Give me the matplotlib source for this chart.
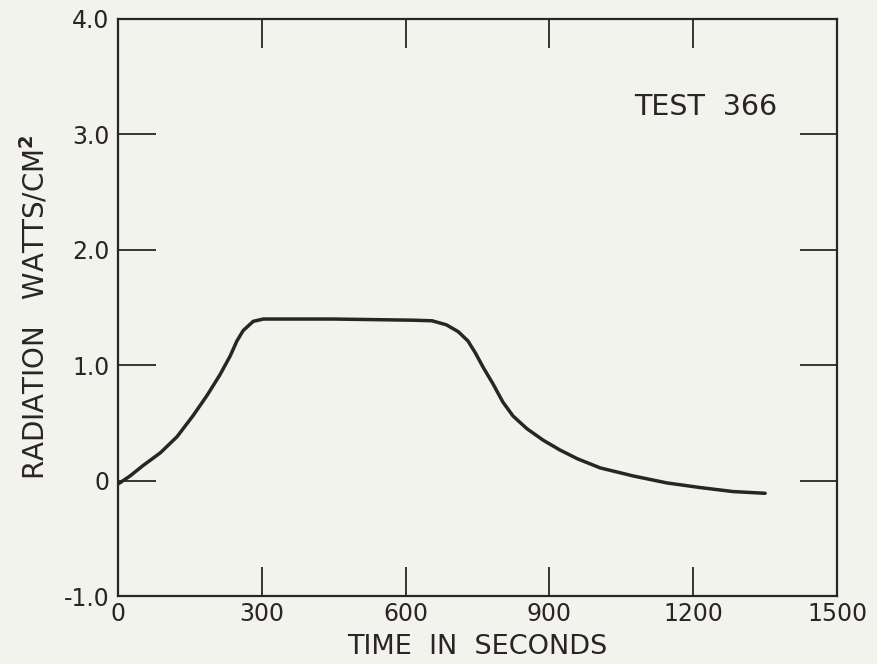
import matplotlib
matplotlib.use("Agg")
import matplotlib.pyplot as plt

# curve (test 366)
time_s = [0, 25, 52, 88, 123, 156, 186, 213, 234, 248, 261, 282, 303, 450, 615,
          655, 685, 710, 730, 745, 762, 782, 803, 824, 853, 887, 922, 958,
          1006, 1075, 1145, 1214, 1283, 1350]
radiation = [-0.03, 0.04, 0.13, 0.24, 0.38, 0.56, 0.74, 0.92, 1.08, 1.21, 1.30, 1.38, 1.40, 1.40, 1.39,
             1.385, 1.35, 1.29, 1.21, 1.11, 0.98, 0.84, 0.68, 0.56, 0.45, 0.35, 0.265, 0.19,
             0.11, 0.04, -0.02, -0.06, -0.095, -0.11]

xticks = [0, 300, 600, 900, 1200, 1500]
yticks = [-1.0, 0, 1.0, 2.0, 3.0, 4.0]
ytick_labels = ["-1.0", "0", "1.0", "2.0", "3.0", "4.0"]

bg = "#f3f3ee"
ink = "#2a2426"

fig = plt.figure(figsize=(8.77, 6.64), dpi=100, facecolor=bg)
ax = fig.add_axes([0.1346, 0.1024, 0.8198, 0.869])
ax.set_facecolor(bg)

ax.plot(time_s, radiation, color=ink, lw=2.5, solid_capstyle="round", solid_joinstyle="round")

ax.set_xlim(0, 1500)
ax.set_ylim(-1.0, 4.0)
ax.set_xticks(xticks)
ax.set_xticklabels([str(t) for t in xticks])
ax.set_yticks(yticks)
ax.set_yticklabels(ytick_labels)

ax.tick_params(axis="x", direction="in", length=21, width=1.3, color=ink,
               top=True, labelsize=17, pad=4, labelcolor=ink)
ax.tick_params(axis="y", direction="in", length=27, width=1.3, color=ink,
               right=True, labelsize=17, pad=6, labelcolor=ink)
for s in ax.spines.values():
    s.set_linewidth(1.6)
    s.set_color(ink)

ax.set_xlabel("TIME  IN  SECONDS", fontsize=19.5, color=ink, labelpad=6)
ax.set_ylabel("RADIATION   WATTS/CM$^\\mathbf{2}$", fontsize=20, color=ink, labelpad=10)

ax.text(1375, 3.24, "TEST  366", fontsize=20.5, color=ink, ha="right", va="center")

fig.savefig("out.png", dpi=100, facecolor=bg)
